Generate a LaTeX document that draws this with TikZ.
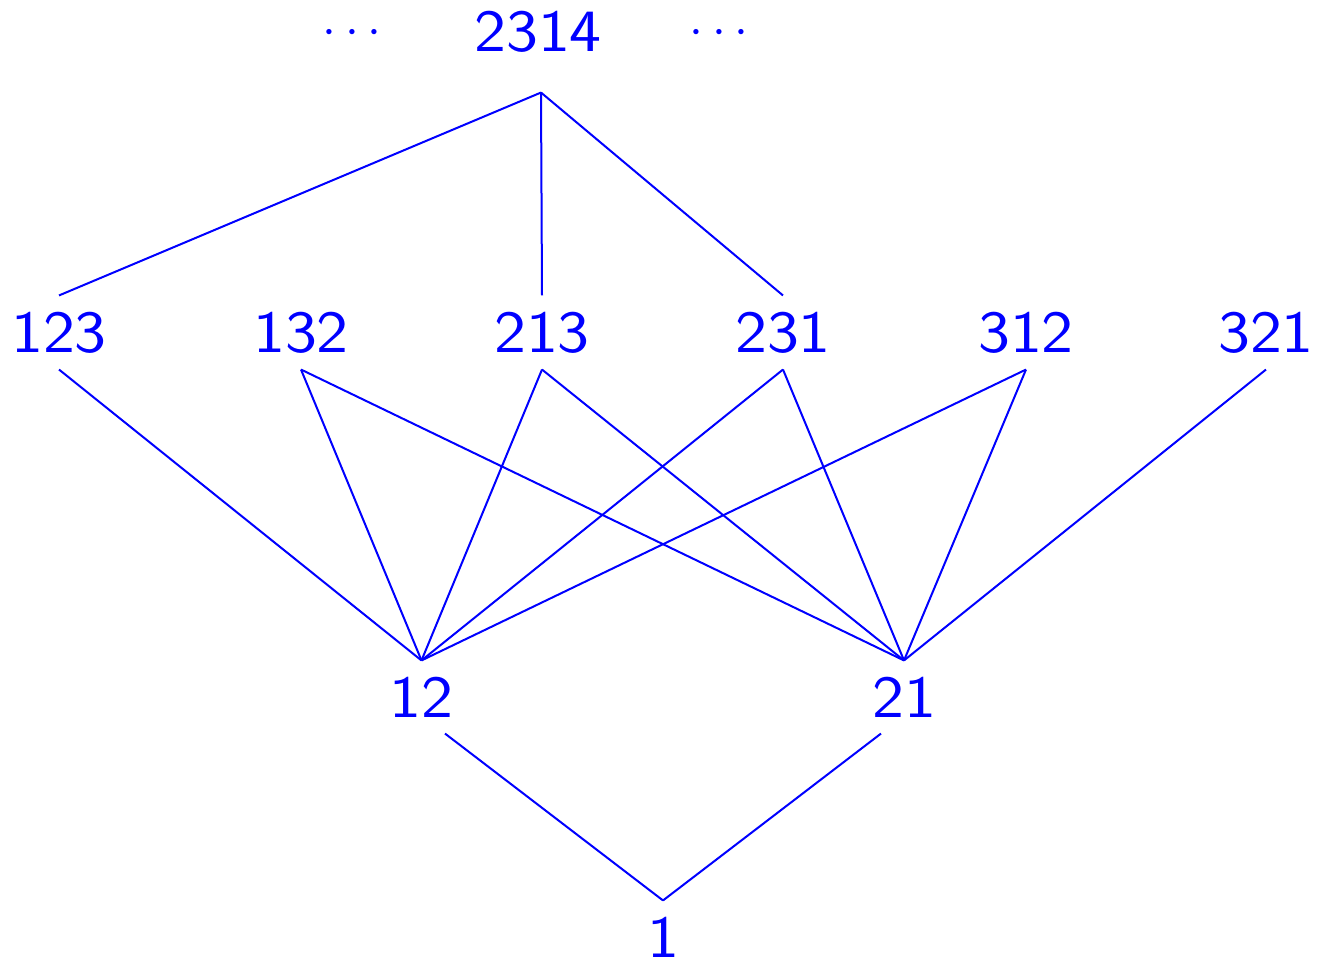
\documentclass[tikz,border=0pt]{standalone}
\usepackage{graphicx}
\newcommand\wtxt[1]{\scalebox{1.13}[1]{#1}}
\begin{document}
\begin{tikzpicture}[x=0.5pt,y=-0.5pt,
  lbl/.style={text=blue, font=\sffamily\fontsize{30}{36}\selectfont, inner xsep=0pt, inner ysep=8pt},
  edge/.style={draw=blue, line width=1pt}]
\useasboundingbox (0,0) rectangle (1319,959);
\node[lbl] (dl) at (352,33) {$\cdotp$\kern4.2pt$\cdotp$\kern4.2pt$\cdotp$};
\node[lbl] (top) at (538,31.5) {\wtxt{2314}};
\node[lbl] (dr) at (719,33) {$\cdotp$\kern4.2pt$\cdotp$\kern4.2pt$\cdotp$};
\node[lbl] (a) at (59,332.5) {\wtxt{123}};
\node[lbl] (b) at (301,332.5) {\wtxt{132}};
\node[lbl] (c) at (542,332.5) {\wtxt{213}};
\node[lbl] (d) at (783,332.5) {\wtxt{231}};
\node[lbl] (e) at (1026,332.5) {\wtxt{312}};
\node[lbl] (f) at (1266,332.5) {\wtxt{321}};
\node[lbl] (p) at (421.5,697) {\wtxt{12}};
\node[lbl] (q) at (904,697) {\wtxt{21}};
\node[lbl] (o) at (663,937) {\wtxt{1}};
\coordinate (tv) at ([xshift=1.5pt,yshift=-12pt]top.south);
\draw[edge] (tv) -- (a.north);
\draw[edge] (tv) -- (c.north);
\draw[edge] (tv) -- (d.north);
\foreach \n in {a,b,c,d,e} \draw[edge] (\n.south) -- (p.north);
\foreach \n in {b,c,d,e,f} \draw[edge] (\n.south) -- (q.north);
\draw[edge] ([xshift=11.75pt]p.south) -- (o.north);
\draw[edge] ([xshift=-11.5pt]q.south) -- (o.north);
\end{tikzpicture}
\end{document}
